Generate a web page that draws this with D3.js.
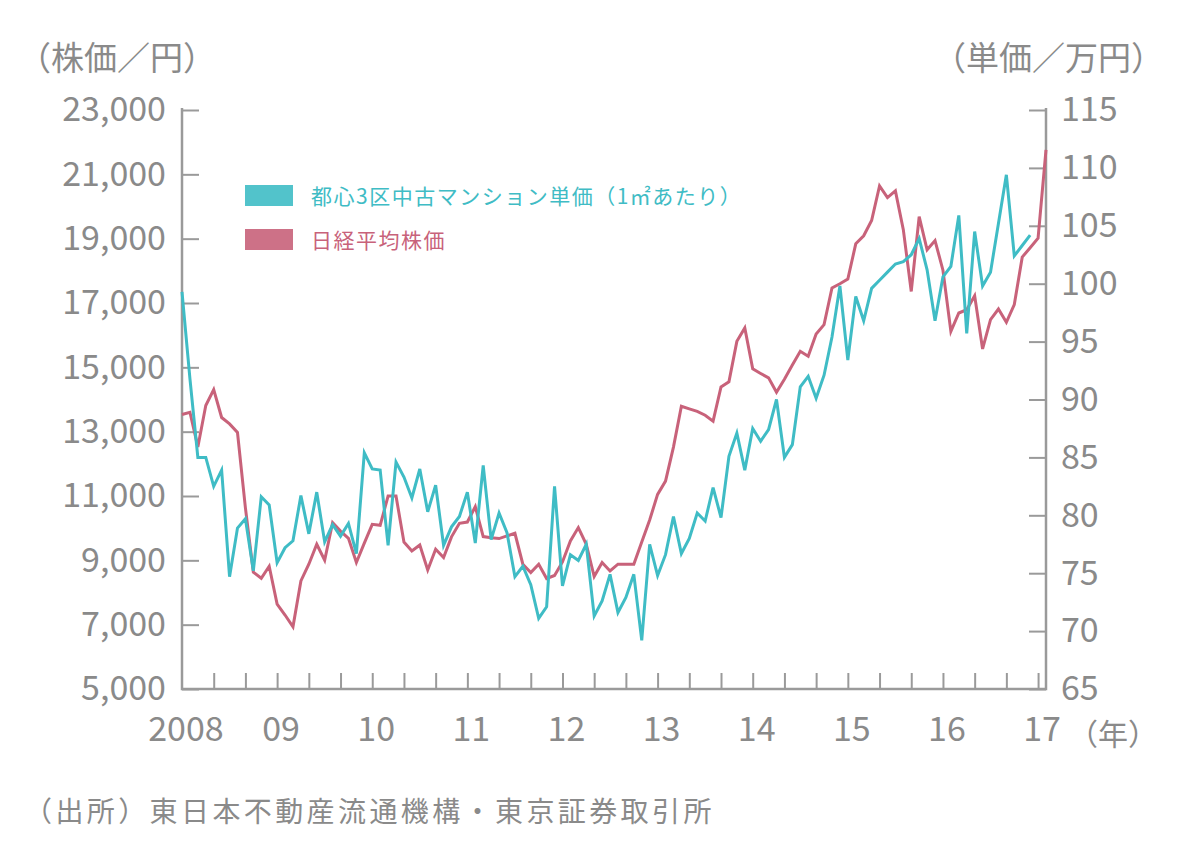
<!DOCTYPE html>
<html>
<head>
<meta charset="utf-8">
<script src="https://cdn.jsdelivr.net/npm/d3@7/dist/d3.min.js"></script>
<style>
  body { margin: 0; background: #fff; }
  text { font-family: "Noto Sans CJK JP", "Noto Sans", sans-serif; }
</style>
</head>
<body>
<div id="app"></div>
<script>
// months Jan 2008 .. Feb 2017
const months = d3.timeMonth.range(new Date(2008, 0, 1), new Date(2017, 2, 1));

// 都心3区中古マンション単価 (万円/㎡)
const condoPrice = [
  99.3, 91.8, 85.0, 85.0, 82.5, 83.9, 74.7, 78.9, 79.7, 75.2, 81.6, 80.9,
  75.9, 77.2, 77.8, 81.7, 78.4, 82.0, 77.7, 79.2, 78.2, 79.3, 76.7, 85.4,
  84.0, 83.9, 77.4, 84.6, 83.3, 81.5, 84.0, 80.3, 82.6, 77.4, 79.0, 79.9,
  82.0, 77.6, 84.3, 77.9, 80.2, 78.5, 74.7, 75.6, 74.0, 71.1, 72.1, 82.5,
  73.9, 76.6, 76.1, 77.5, 71.3, 72.6, 74.9, 71.6, 72.9, 74.9, 69.2, 77.5,
  74.8, 76.6, 79.9, 76.7, 78.0, 80.2, 79.5, 82.4, 79.8, 85.1, 87.1, 83.9,
  87.5, 86.4, 87.4, 90.0, 85.0, 86.1, 91.1, 92.0, 90.1, 92.1, 95.4, 99.8,
  93.4, 98.9, 96.8, 99.6, 100.3, 101.0, 101.7, 101.9, 102.5, 103.9, 101.2, 96.8,
  100.6, 101.5, 105.9, 95.7, 104.5, 99.8, 101.0, 105.2, 109.4, 102.4, 103.3, 104.2,
  null, null
];

// 日経平均株価 (円)
const nikkei = [
  13533, 13603, 12525, 13813, 14309, 13440, 13240, 12975, 10630, 8630, 8444, 8817,
  7637, 7300, 6933, 8361, 8880, 9500, 9003, 10173, 9909, 9686, 8932, 9535,
  10120, 10089, 10998, 10998, 9571, 9292, 9478, 8702, 9344, 9086, 9730, 10151,
  10191, 10669, 9738, 9700, 9676, 9760, 9841, 8879, 8621, 8879, 8435, 8530,
  8950, 9602, 10018, 9500, 8497, 8932, 8671, 8879, 8879, 8879, 9570, 10254,
  11051, 11464, 12520, 13791, 13710, 13630, 13510, 13326, 14393, 14548, 15808, 16223,
  14951, 14810, 14672, 14225, 14630, 15070, 15498, 15343, 16038, 16327, 17466, 17600,
  17745, 18840, 19090, 19564, 20640, 20277, 20485, 19280, 17359, 19687, 18653, 18942,
  18020, 16118, 16689, 16790, 17227, 15572, 16482, 16814, 16400, 16950, 18426, 18720,
  19017, 21760
];

const leftTicks = [5000, 7000, 9000, 11000, 13000, 15000, 17000, 19000, 21000, 23000];
const rightTicks = [65, 70, 75, 80, 85, 90, 95, 100, 105, 110, 115];
const yearLabels = ["2008", "09", "10", "11", "12", "13", "14", "15", "16", "17"];

const cyan = "#3fbcc5";
const pink = "#c8627a";
const grey = "#8a8a8a";
const axisGrey = "#9a9a9a";

const w = 1200, h = 859;
const plotLeft = 182, plotRight = 1046, plotTop = 110, plotBottom = 689;

const svg = d3.select("#app").append("svg").attr("width", w).attr("height", h);

const x = d3.scalePoint().domain(months).range([plotLeft, plotRight]);
const yL = d3.scaleLinear().domain([5000, 23000]).range([plotBottom, plotTop]);
const yR = d3.scaleLinear().domain([65, 115]).range([plotBottom, plotTop]);

//left axis
const gL = svg.append("g").attr("transform", `translate(${plotLeft},0)`)
  .call(d3.axisLeft(yL).tickValues(leftTicks).tickSize(-17).tickPadding(16)
    .tickFormat(d3.format(",")));
//right axis
const gR = svg.append("g").attr("transform", `translate(${plotRight},0)`)
  .call(d3.axisRight(yR).tickValues(rightTicks).tickSize(-17).tickPadding(15));
//bottom ticks every 4 months
const gB = svg.append("g").attr("transform", `translate(0,${plotBottom})`)
  .call(d3.axisBottom(x).tickValues(months.filter((d, i) => i % 4 === 0 && i > 0 && i < months.length - 1))
    .tickSize(-16).tickFormat(""));

[gL, gR, gB].forEach(g => {
  g.select(".domain").remove();
  g.selectAll(".tick line").attr("stroke", axisGrey).attr("stroke-width", 2);
  g.selectAll(".tick text").attr("fill", grey).style("font-size", "34px")
    .style("font-family", "'Noto Sans CJK JP', 'Noto Sans', sans-serif");
});

//frame lines (left, bottom, right)
svg.append("path")
  .attr("d", `M${plotLeft},${plotTop - 2}V${plotBottom}H${plotRight}V${plotTop - 2}`)
  .attr("fill", "none").attr("stroke", axisGrey).attr("stroke-width", 2.5);

//year labels
const janMonths = months.filter(d => d.getMonth() === 0);
svg.append("g").selectAll("text").data(janMonths).enter().append("text")
  .attr("x", d => x(d) + 4)
  .attr("y", 741)
  .attr("text-anchor", "middle")
  .attr("fill", grey)
  .style("font-size", "34px")
  .text((d, i) => yearLabels[i]);

svg.append("text").attr("x", 1068).attr("y", 745).attr("fill", grey)
  .style("font-size", "30px").text("（年）");

//axis titles
svg.append("text").attr("x", 18).attr("y", 70).attr("fill", grey)
  .style("font-size", "33px").text("（株価／円）");
svg.append("text").attr("x", 1164).attr("y", 70).attr("fill", grey)
  .attr("text-anchor", "end").style("font-size", "33px").text("（単価／万円）");

//lines
const lineN = d3.line().x((d, i) => x(months[i])).y(d => yL(d)).defined(d => d != null);
const lineC = d3.line().x((d, i) => x(months[i])).y(d => yR(d)).defined(d => d != null);

svg.append("path").datum(nikkei).attr("d", lineN)
  .attr("fill", "none").attr("stroke", pink).attr("stroke-width", 3);
svg.append("path").datum(condoPrice).attr("d", lineC)
  .attr("fill", "none").attr("stroke", cyan).attr("stroke-width", 3);

//legend
const legend = [
  { label: "都心3区中古マンション単価（1㎡あたり）", color: cyan, y: 185 },
  { label: "日経平均株価", color: pink, y: 229 }
];
const lg = svg.append("g");
lg.selectAll("rect").data(legend).enter().append("rect")
  .attr("x", 245).attr("y", d => d.y).attr("width", 48).attr("height", 21)
  .attr("fill", d => d.color).attr("opacity", 0.9);
lg.selectAll("text").data(legend).enter().append("text")
  .attr("x", 311).attr("y", d => d.y + 19)
  .attr("fill", d => d.color)
  .style("font-size", "21px").style("letter-spacing", "1.5px")
  .text(d => d.label);

//source
svg.append("text").attr("x", 24).attr("y", 822).attr("fill", grey)
  .style("font-size", "28px").style("letter-spacing", "3.4px")
  .text("（出所）東日本不動産流通機構・東京証券取引所");
</script>
</body>
</html>
